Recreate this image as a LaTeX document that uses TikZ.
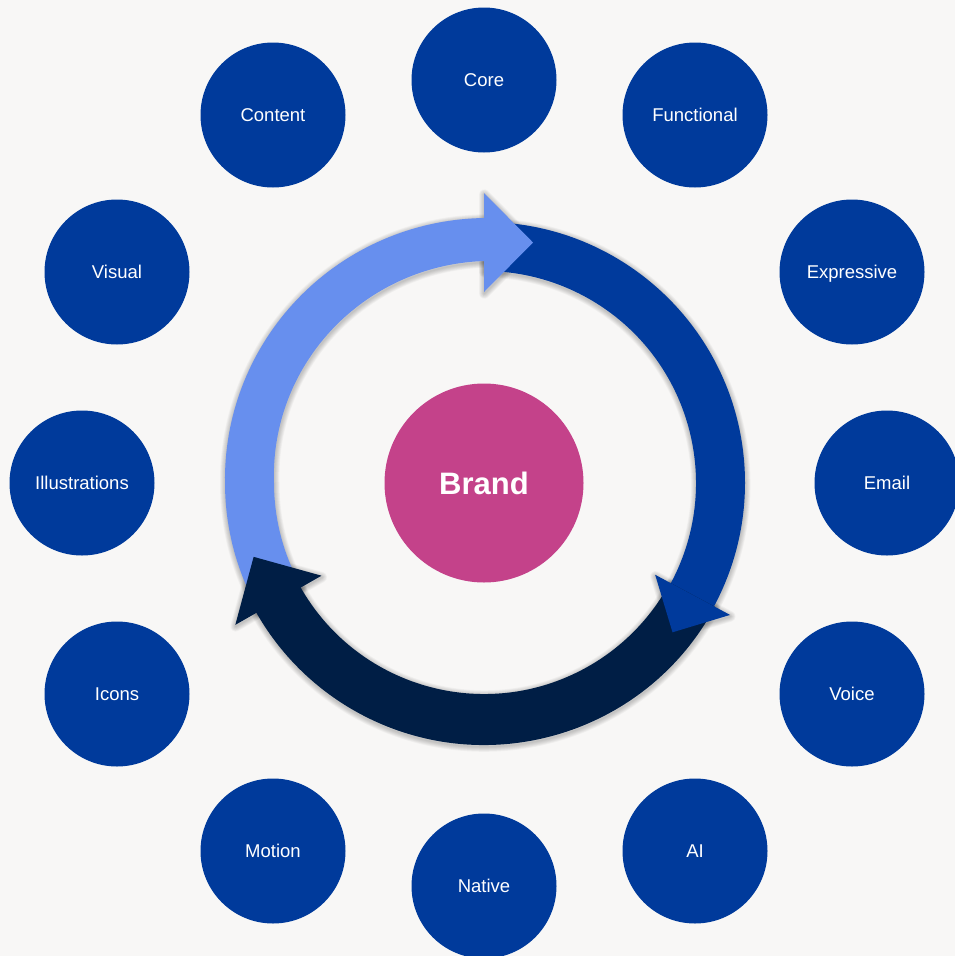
\documentclass[tikz,border=0pt]{standalone}
\usepackage{fontspec}
\setmainfont{Liberation Sans}

\definecolor{pagebg}{HTML}{F8F7F6}
\definecolor{ringlight}{HTML}{678FEE}
\definecolor{ringdark}{HTML}{003A9C}
\definecolor{ringnavy}{HTML}{001E45}
\definecolor{pillarblue}{HTML}{003A9B}
\definecolor{brandpink}{HTML}{C4428A}

\tikzset{
  pillar/.style={circle, fill=pillarblue, minimum size=145pt, inner sep=0pt,
    text=white, font=\fontsize{18.5}{20}\selectfont,
    text height=13.3pt, text depth=0pt},
  hub/.style={circle, fill=brandpink, minimum size=199pt, inner sep=0pt,
    text=white, font=\fontsize{31}{36}\selectfont\bfseries,
    text height=22.3pt, text depth=0pt},
  % one layer of the soft shadow: a faint stroke, nudged downwards
  shadowlayer/.style={draw=black, draw opacity=0.03, line width=#1,
    line join=round, shift={(0.3,1.5)}},
}

% ring segments (polar angles measured clockwise on the page, centre at origin)
\newcommand\lightband[1]{%
  \path[#1]
    plot[domain=150.3:270.5, samples=90, variable=\t]
      ({\t}:{259+6*max(0,\t-180)/90})
    -- plot[domain=270.5:150.3, samples=90, variable=\t]
      ({\t}:{210+12*max(0,\t-180)/90})
    -- cycle;}
\newcommand\darkband[1]{%
  \path[#1] (270:261) arc[start angle=270, end angle=389.5, radius=261]
    -- (389.5:212) arc[start angle=389.5, end angle=270, radius=212] -- cycle;}
\newcommand\navyband[1]{%
  \path[#1] (28.2:262) arc[start angle=28.2, end angle=151, radius=262]
    -- (151:211) arc[start angle=151, end angle=28.2, radius=211] -- cycle;}
% arrow head: base angle, mid radius, half width, length, options
\newcommand\ringhead[5]{%
  \path[#5] (#1:{#2-#3})
    -- ({#1+atan(#4/#2)}:{veclen(#2,#4)})
    -- (#1:{#2+#3}) -- cycle;}

\begin{document}
\begin{tikzpicture}[x=1pt, y=-1pt]
  \fill[pagebg] (0,0) rectangle (955,956);
  \useasboundingbox (0,0) rectangle (955,956);

  \begin{scope}[shift={(484,483)}]
    % soft shadow beneath the whole ring, built from widening faint strokes
    \foreach \w in {1.5,3,4.5,6,7.5,9,10.5} {
      \lightband{shadowlayer=\w pt}
      \darkband{shadowlayer=\w pt}
      \navyband{shadowlayer=\w pt}
      \ringhead{270}{240.5}{49.5}{49}{shadowlayer=\w pt}
      \ringhead{28.2}{236.7}{42.5}{42.5}{shadowlayer=\w pt}
      \ringhead{150.3}{236.7}{49.6}{50}{shadowlayer=\w pt}
    }
    % bands
    \lightband{fill=ringlight}
    \darkband{fill=ringdark}
    \navyband{fill=ringnavy}
    % heads
    \ringhead{270}{240.5}{49.5}{49}{fill=ringlight}
    \ringhead{28.2}{236.7}{42.5}{42.5}{fill=ringdark}
    \ringhead{150.3}{236.7}{49.6}{50}{fill=ringnavy}
  \end{scope}

  \node[hub] (brand) at (484,483) {Brand};

  \node[pillar] (core)          at (484,80)  {Core};
  \node[pillar] (functional)    at (695,115) {Functional};
  \node[pillar] (expressive)    at (852,272) {Expressive};
  \node[pillar] (email)         at (887,483) {Email};
  \node[pillar] (voice)         at (852,694) {Voice};
  \node[pillar] (ai)            at (695,851) {AI};
  \node[pillar] (native)        at (484,886) {Native};
  \node[pillar] (motion)        at (273,851) {Motion};
  \node[pillar] (icons)         at (117,694) {Icons};
  \node[pillar] (illustrations) at (82,483)  {Illustrations};
  \node[pillar] (visual)        at (117,272) {Visual};
  \node[pillar] (content)       at (273,115) {Content};
\end{tikzpicture}
\end{document}
